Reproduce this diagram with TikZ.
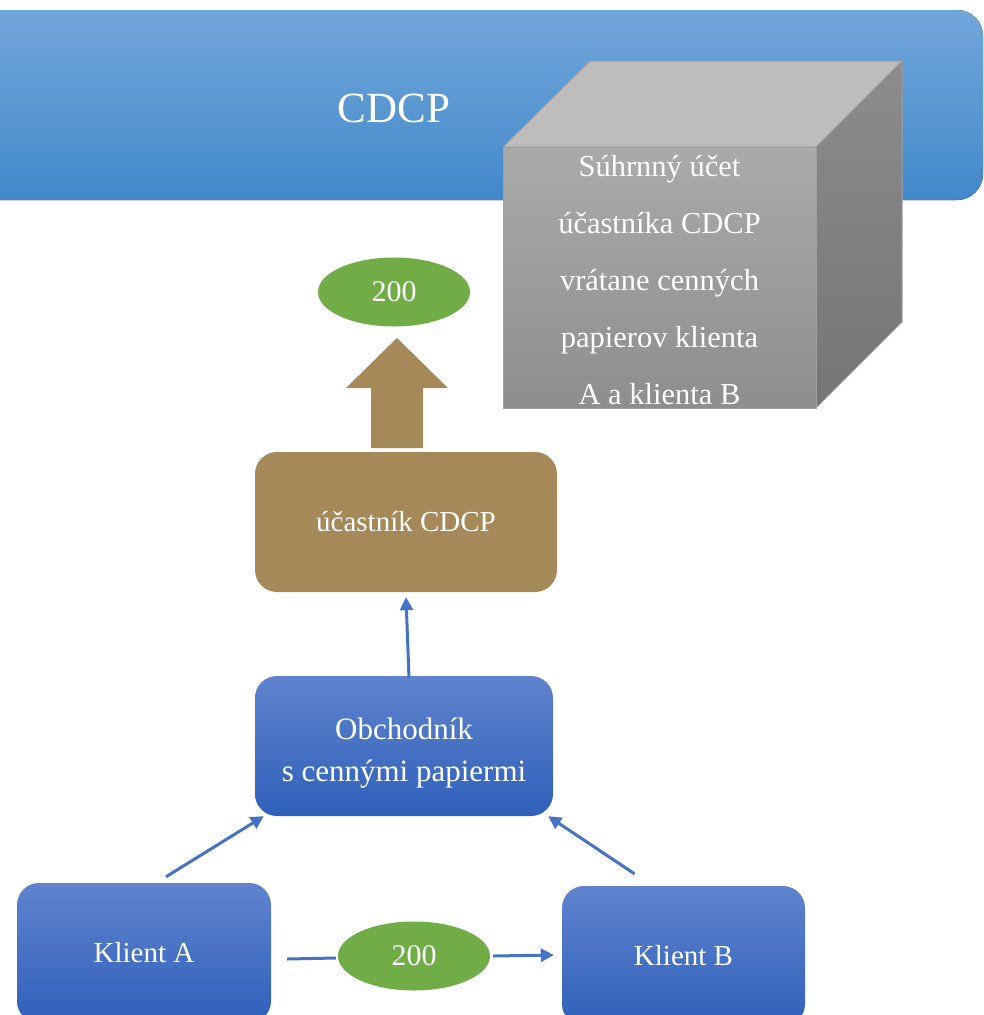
\documentclass[tikz,border=0pt]{standalone}
\usepackage{fontspec}
\setmainfont{Liberation Serif}
\usetikzlibrary{shapes.geometric,arrows.meta,calc}
\definecolor{bannertop}{RGB}{113,167,219}
\definecolor{bannerbot}{RGB}{66,136,201}
\definecolor{boxtop}{RGB}{95,131,206}
\definecolor{boxbot}{RGB}{48,96,186}
\definecolor{linkblue}{RGB}{68,114,196}
\definecolor{okgreen}{RGB}{112,173,71}
\definecolor{brownbox}{RGB}{165,137,89}
\definecolor{cubetop}{RGB}{189,189,189}
\definecolor{cubefronttop}{RGB}{170,170,170}
\definecolor{cubefrontbot}{RGB}{142,142,142}
\definecolor{cubesidetop}{RGB}{140,140,140}
\definecolor{cubesidebot}{RGB}{117,117,117}
\definecolor{cubeedge}{RGB}{160,160,160}
\begin{document}
\begin{tikzpicture}[x=1pt,y=-1pt,
  bluebox/.style={rounded corners=22pt, top color=boxtop, bottom color=boxbot,
    text=white, minimum height=140pt, align=center, inner sep=0pt,
    font=\fontsize{29}{41}\selectfont},
  brownstyle/.style={rounded corners=22pt, fill=brownbox, text=white,
    minimum height=140pt, align=center, inner sep=0pt,
    font=\fontsize{29}{41}\selectfont},
  greenoval/.style={ellipse, fill=okgreen, text=white, minimum width=152pt,
    minimum height=69pt, inner sep=0pt, font=\fontsize{30}{36}\selectfont},
  conn/.style={draw=linkblue, line width=3pt, -{Triangle[length=13pt,width=13pt]}},
  plainconn/.style={draw=linkblue, line width=3pt},
  cubetext/.style={text=white, align=center, inner sep=0pt,
    font=\fontsize{30.5}{57}\selectfont},
  obtextstyle/.style={text=white, align=center, inner sep=0pt,
    font=\fontsize{31}{42}\selectfont}
]
\useasboundingbox (0,0) rectangle (984,1015);
\clip (0,0) rectangle (984,1015);

% banner
\fill[top color=bannertop, bottom color=bannerbot, rounded corners=26pt]
  (-60,10) rectangle (983,200);
\node[text=white, font=\fontsize{43}{50}\selectfont] (cdcp) at (394,108) {CDCP};

% cube
\fill[cubetop, draw=cubeedge, line width=1pt] (503,147) -- (590,61) -- (902,61) -- (816,147) -- cycle;
\shade[top color=cubesidetop, bottom color=cubesidebot, draw=cubeedge, line width=1pt]
  (816,147) -- (902,61) -- (902,322) -- (816,408) -- cycle;
\shade[top color=cubefronttop, bottom color=cubefrontbot, draw=cubeedge, line width=1pt]
  (503,147) rectangle (816,408);
\node[cubetext] (cube) at (659.5,280.5)
  {Súhrnný účet\\účastníka CDCP\\vrátane cenných\\papierov klienta\\A a klienta B};

% top green oval and big arrow
\node[greenoval] (g1) at (394,292) {200};
\fill[brownbox] (371,448) -- (371,388) -- (346,388) -- (397,338) -- (448,388)
  -- (423,388) -- (423,448) -- cycle;

% boxes
\node[brownstyle, minimum width=302pt] (uc) at (406,522) {účastník CDCP};
\node[bluebox, minimum width=298pt] (ob) at (404,746) {};
\node[obtextstyle] (obtext) at ($(ob.center)+(0,7)$) {Obchodník\\s cennými papiermi};
\node[bluebox, minimum width=254pt] (ka) at (144,953) {Klient A};
\node[bluebox, minimum width=243pt] (kb) at (683.5,956) {Klient B};
\node[greenoval] (g2) at (414,956) {200};

% connectors
\draw[conn] ($(ob.north)+(5,2)$) -- ($(uc.south)+(0,5)$);
\draw[conn] ($(ka.north)+(22,-6)$) -- ($(ob.south west)+(9,0)$);
\draw[conn] ($(kb.north)+(-49,-12)$) -- ($(ob.south east)+(-5,0)$);
\draw[plainconn] ($(ka.east)+(16,6)$) -- ($(g2.west)+(-2,2)$);
\draw[conn] ($(g2.east)+(3,0)$) -- ($(kb.west)+(-8,-1)$);
\end{tikzpicture}
\end{document}
